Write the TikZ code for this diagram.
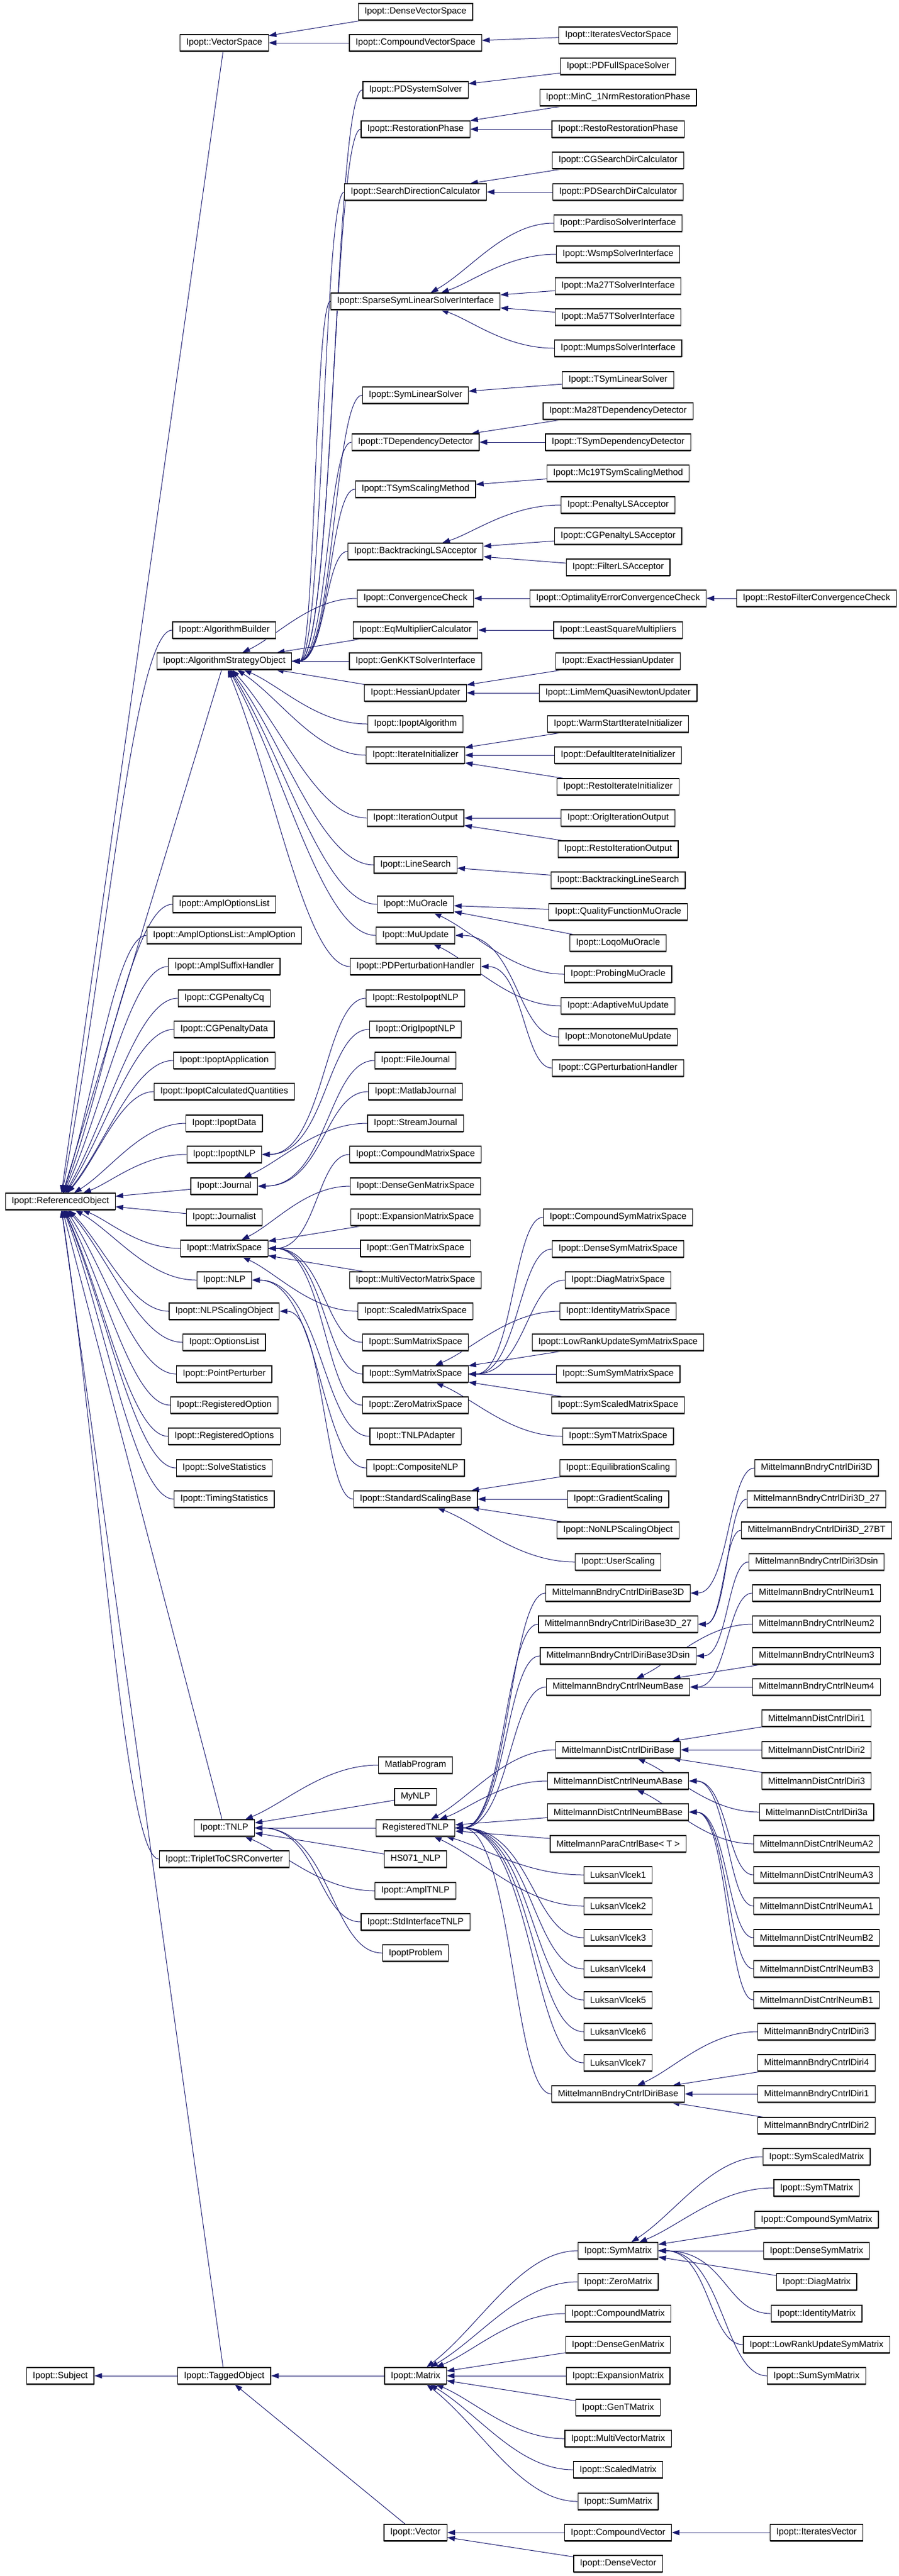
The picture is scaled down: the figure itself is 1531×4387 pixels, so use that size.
\documentclass[tikz,border=0pt]{standalone}
\usepackage{fontspec}
\newfontfamily\dxfont{Liberation Sans}
\usetikzlibrary{arrows.meta,calc,shadows}
\definecolor{mblue}{HTML}{191970}
\pgfdeclarelayer{edgelayer}
\pgfsetlayers{edgelayer,main}
\begin{document}
\begin{tikzpicture}[x=0.5pt,y=-0.5pt,
  box/.style={draw=black, fill=white, line width=0.6pt, inner xsep=5.3pt, inner ysep=0pt,
    minimum height=14pt, font=\dxfont\fontsize{7.65pt}{9pt}\selectfont,
    drop shadow={shadow xshift=0pt,shadow yshift=-0.8pt,fill=black!55,opacity=1}},
  inh/.style={draw=mblue, line width=0.5pt, {Triangle[length=6.5pt,width=4.5pt]}-}]
\useasboundingbox (0,0) rectangle (1531,4387);
\def\Xa{102.7}\def\Xb{381.9}\def\Xc{707.6}\def\Xd{1052.6}\def\Xe{1390.6}
\def\ES#1#2{\draw[inh] (#1) -- (#2);}
\def\EV#1#2{\draw[inh] (#1) .. controls ($(#1)!0.4!(#2.west)$) and ($(#2.west)!0.35!(#2.west -| #1)$) .. (#2.west);}
\def\EC#1#2{\draw[inh] (#1.east) .. controls ($(#1.east)!0.6!(#1.east -| #2.west)$) and ($(#2.west)!0.4!(#2.west -| #1.east)$) .. (#2.west);}
% column 0
\node[box] (ref) at (\Xa,2046) {Ipopt::ReferencedObject};
\node[box] (subj) at (\Xa,4046) {Ipopt::Subject};
% column 1
\node[box] (vs) at (\Xb,73) {Ipopt::VectorSpace};
\node[box] (ab) at (\Xb,1073) {Ipopt::AlgorithmBuilder};
\node[box] (aso) at (\Xb,1126) {Ipopt::AlgorithmStrategyObject};
\node[box] (aol) at (\Xb,1540) {Ipopt::AmplOptionsList};
\node[box] (aoo) at (\Xb,1593) {Ipopt::AmplOptionsList::AmplOption};
\node[box] (ash) at (\Xb,1646) {Ipopt::AmplSuffixHandler};
\node[box] (cgq) at (\Xb,1700) {Ipopt::CGPenaltyCq};
\node[box] (cgd) at (\Xb,1753) {Ipopt::CGPenaltyData};
\node[box] (iapp) at (\Xb,1806) {Ipopt::IpoptApplication};
\node[box] (icq) at (\Xb,1859) {Ipopt::IpoptCalculatedQuantities};
\node[box] (idata) at (\Xb,1913) {Ipopt::IpoptData};
\node[box] (inlp) at (\Xb,1966) {Ipopt::IpoptNLP};
\node[box] (jour) at (\Xb,2020) {Ipopt::Journal};
\node[box] (jist) at (\Xb,2073) {Ipopt::Journalist};
\node[box] (ms) at (\Xb,2126) {Ipopt::MatrixSpace};
\node[box] (nlp) at (\Xb,2180) {Ipopt::NLP};
\node[box] (nso) at (\Xb,2233) {Ipopt::NLPScalingObject};
\node[box] (ol) at (\Xb,2286) {Ipopt::OptionsList};
\node[box] (pp) at (\Xb,2340) {Ipopt::PointPerturber};
\node[box] (ropt) at (\Xb,2393) {Ipopt::RegisteredOption};
\node[box] (ropts) at (\Xb,2446) {Ipopt::RegisteredOptions};
\node[box] (ss) at (\Xb,2500) {Ipopt::SolveStatistics};
\node[box] (ts) at (\Xb,2553) {Ipopt::TimingStatistics};
\node[box] (tnlp) at (\Xb,3113) {Ipopt::TNLP};
\node[box] (tcsr) at (\Xb,3166) {Ipopt::TripletToCSRConverter};
\node[box] (tag) at (\Xb,4046) {Ipopt::TaggedObject};
% column 2
\node[box] (dvs) at (\Xc,20) {Ipopt::DenseVectorSpace};
\node[box] (cvs) at (\Xc,73) {Ipopt::CompoundVectorSpace};
\node[box] (pdss) at (\Xc,153) {Ipopt::PDSystemSolver};
\node[box] (rp) at (\Xc,220) {Ipopt::RestorationPhase};
\node[box] (sdc) at (\Xc,327) {Ipopt::SearchDirectionCalculator};
\node[box] (sslsi) at (\Xc,513) {Ipopt::SparseSymLinearSolverInterface};
\node[box] (sls) at (\Xc,673) {Ipopt::SymLinearSolver};
\node[box] (tdd) at (\Xc,753) {Ipopt::TDependencyDetector};
\node[box] (tssm) at (\Xc,833) {Ipopt::TSymScalingMethod};
\node[box] (blsa) at (\Xc,939) {Ipopt::BacktrackingLSAcceptor};
\node[box] (cc) at (\Xc,1019) {Ipopt::ConvergenceCheck};
\node[box] (emc) at (\Xc,1073) {Ipopt::EqMultiplierCalculator};
\node[box] (gkkt) at (\Xc,1126) {Ipopt::GenKKTSolverInterface};
\node[box] (hu) at (\Xc,1180) {Ipopt::HessianUpdater};
\node[box] (ialg) at (\Xc,1233) {Ipopt::IpoptAlgorithm};
\node[box] (ii) at (\Xc,1286) {Ipopt::IterateInitializer};
\node[box] (io) at (\Xc,1393) {Ipopt::IterationOutput};
\node[box] (ls) at (\Xc,1473) {Ipopt::LineSearch};
\node[box] (muo) at (\Xc,1540) {Ipopt::MuOracle};
\node[box] (muu) at (\Xc,1593) {Ipopt::MuUpdate};
\node[box] (pdph) at (\Xc,1646) {Ipopt::PDPerturbationHandler};
\node[box] (rinlp) at (\Xc,1700) {Ipopt::RestoIpoptNLP};
\node[box] (oinlp) at (\Xc,1753) {Ipopt::OrigIpoptNLP};
\node[box] (fj) at (\Xc,1806) {Ipopt::FileJournal};
\node[box] (mj) at (\Xc,1859) {Ipopt::MatlabJournal};
\node[box] (sj) at (\Xc,1913) {Ipopt::StreamJournal};
\node[box] (cms) at (\Xc,1966) {Ipopt::CompoundMatrixSpace};
\node[box] (dgms) at (\Xc,2020) {Ipopt::DenseGenMatrixSpace};
\node[box] (ems) at (\Xc,2073) {Ipopt::ExpansionMatrixSpace};
\node[box] (gtms) at (\Xc,2126) {Ipopt::GenTMatrixSpace};
\node[box] (mvms) at (\Xc,2180) {Ipopt::MultiVectorMatrixSpace};
\node[box] (scms) at (\Xc,2233) {Ipopt::ScaledMatrixSpace};
\node[box] (sums) at (\Xc,2286) {Ipopt::SumMatrixSpace};
\node[box] (syms) at (\Xc,2340) {Ipopt::SymMatrixSpace};
\node[box] (zms) at (\Xc,2393) {Ipopt::ZeroMatrixSpace};
\node[box] (tnlpa) at (\Xc,2446) {Ipopt::TNLPAdapter};
\node[box] (cnlp) at (\Xc,2500) {Ipopt::CompositeNLP};
\node[box] (ssb) at (\Xc,2553) {Ipopt::StandardScalingBase};
\node[box] (mp) at (\Xc,3006) {MatlabProgram};
\node[box] (mynlp) at (\Xc,3060) {MyNLP};
\node[box] (rtnlp) at (\Xc,3113) {RegisteredTNLP};
\node[box] (hs071) at (\Xc,3166) {HS071\_NLP};
\node[box] (atnlp) at (\Xc,3220) {Ipopt::AmplTNLP};
\node[box] (sitnlp) at (\Xc,3273) {Ipopt::StdInterfaceTNLP};
\node[box] (iprob) at (\Xc,3326) {IpoptProblem};
\node[box] (mat) at (\Xc,4046) {Ipopt::Matrix};
\node[box] (vec) at (\Xc,4313) {Ipopt::Vector};
% column 3
\node[box] (ivs) at (\Xd,60) {Ipopt::IteratesVectorSpace};
\node[box] (pdfss) at (\Xd,113) {Ipopt::PDFullSpaceSolver};
\node[box] (minc) at (\Xd,166) {Ipopt::MinC\_1NrmRestorationPhase};
\node[box] (rrp) at (\Xd,220) {Ipopt::RestoRestorationPhase};
\node[box] (cgsd) at (\Xd,273) {Ipopt::CGSearchDirCalculator};
\node[box] (pdsd) at (\Xd,327) {Ipopt::PDSearchDirCalculator};
\node[box] (pardiso) at (\Xd,380) {Ipopt::PardisoSolverInterface};
\node[box] (wsmp) at (\Xd,433) {Ipopt::WsmpSolverInterface};
\node[box] (ma27) at (\Xd,487) {Ipopt::Ma27TSolverInterface};
\node[box] (ma57) at (\Xd,540) {Ipopt::Ma57TSolverInterface};
\node[box] (mumps) at (\Xd,593) {Ipopt::MumpsSolverInterface};
\node[box] (tsls) at (\Xd,647) {Ipopt::TSymLinearSolver};
\node[box] (ma28) at (\Xd,700) {Ipopt::Ma28TDependencyDetector};
\node[box] (tsdd) at (\Xd,753) {Ipopt::TSymDependencyDetector};
\node[box] (mc19) at (\Xd,806) {Ipopt::Mc19TSymScalingMethod};
\node[box] (plsa) at (\Xd,860) {Ipopt::PenaltyLSAcceptor};
\node[box] (cgplsa) at (\Xd,913) {Ipopt::CGPenaltyLSAcceptor};
\node[box] (flsa) at (\Xd,966) {Ipopt::FilterLSAcceptor};
\node[box] (oecc) at (\Xd,1019) {Ipopt::OptimalityErrorConvergenceCheck};
\node[box] (lsm) at (\Xd,1073) {Ipopt::LeastSquareMultipliers};
\node[box] (ehu) at (\Xd,1126) {Ipopt::ExactHessianUpdater};
\node[box] (lmqn) at (\Xd,1180) {Ipopt::LimMemQuasiNewtonUpdater};
\node[box] (wsii) at (\Xd,1233) {Ipopt::WarmStartIterateInitializer};
\node[box] (dii) at (\Xd,1286) {Ipopt::DefaultIterateInitializer};
\node[box] (rii) at (\Xd,1340) {Ipopt::RestoIterateInitializer};
\node[box] (oio) at (\Xd,1393) {Ipopt::OrigIterationOutput};
\node[box] (rio) at (\Xd,1446) {Ipopt::RestoIterationOutput};
\node[box] (btls) at (\Xd,1499) {Ipopt::BacktrackingLineSearch};
\node[box] (qfmo) at (\Xd,1553) {Ipopt::QualityFunctionMuOracle};
\node[box] (lmo) at (\Xd,1606) {Ipopt::LoqoMuOracle};
\node[box] (pmo) at (\Xd,1659) {Ipopt::ProbingMuOracle};
\node[box] (amu) at (\Xd,1713) {Ipopt::AdaptiveMuUpdate};
\node[box] (mmu) at (\Xd,1766) {Ipopt::MonotoneMuUpdate};
\node[box] (cgph) at (\Xd,1819) {Ipopt::CGPerturbationHandler};
\node[box] (csms) at (\Xd,2073) {Ipopt::CompoundSymMatrixSpace};
\node[box] (dsms) at (\Xd,2127) {Ipopt::DenseSymMatrixSpace};
\node[box] (diagms) at (\Xd,2180) {Ipopt::DiagMatrixSpace};
\node[box] (idms) at (\Xd,2233) {Ipopt::IdentityMatrixSpace};
\node[box] (lrms) at (\Xd,2286) {Ipopt::LowRankUpdateSymMatrixSpace};
\node[box] (ssms) at (\Xd,2340) {Ipopt::SumSymMatrixSpace};
\node[box] (sysms) at (\Xd,2393) {Ipopt::SymScaledMatrixSpace};
\node[box] (stms) at (\Xd,2446) {Ipopt::SymTMatrixSpace};
\node[box] (eqs) at (\Xd,2500) {Ipopt::EquilibrationScaling};
\node[box] (gs) at (\Xd,2553) {Ipopt::GradientScaling};
\node[box] (nonlp) at (\Xd,2606) {Ipopt::NoNLPScalingObject};
\node[box] (us) at (\Xd,2660) {Ipopt::UserScaling};
\node[box] (bdbt) at (\Xd,2713) {MittelmannBndryCntrlDiriBase3D};
\node[box] (bdbts) at (\Xd,2766) {MittelmannBndryCntrlDiriBase3D\_27};
\node[box] (bdbsin) at (\Xd,2820) {MittelmannBndryCntrlDiriBase3Dsin};
\node[box] (bnb) at (\Xd,2873) {MittelmannBndryCntrlNeumBase};
\node[box] (ddb) at (\Xd,2980) {MittelmannDistCntrlDiriBase};
\node[box] (dnab) at (\Xd,3033) {MittelmannDistCntrlNeumABase};
\node[box] (dnbb) at (\Xd,3086) {MittelmannDistCntrlNeumBBase};
\node[box] (pcb) at (\Xd,3140) {MittelmannParaCntrlBase< T >};
\node[box] (lva) at (\Xd,3193) {LuksanVlcek1};
\node[box] (lvb) at (\Xd,3246) {LuksanVlcek2};
\node[box] (lvc) at (\Xd,3300) {LuksanVlcek3};
\node[box] (lvd) at (\Xd,3353) {LuksanVlcek4};
\node[box] (lve) at (\Xd,3406) {LuksanVlcek5};
\node[box] (lvf) at (\Xd,3460) {LuksanVlcek6};
\node[box] (lvg) at (\Xd,3513) {LuksanVlcek7};
\node[box] (bdb) at (\Xd,3566) {MittelmannBndryCntrlDiriBase};
\node[box] (symm) at (\Xd,3833) {Ipopt::SymMatrix};
\node[box] (zm) at (\Xd,3886) {Ipopt::ZeroMatrix};
\node[box] (cm) at (\Xd,3940) {Ipopt::CompoundMatrix};
\node[box] (dgm) at (\Xd,3993) {Ipopt::DenseGenMatrix};
\node[box] (em) at (\Xd,4046) {Ipopt::ExpansionMatrix};
\node[box] (gtm) at (\Xd,4100) {Ipopt::GenTMatrix};
\node[box] (mvm) at (\Xd,4153) {Ipopt::MultiVectorMatrix};
\node[box] (scm) at (\Xd,4206) {Ipopt::ScaledMatrix};
\node[box] (summ) at (\Xd,4260) {Ipopt::SumMatrix};
\node[box] (cv) at (\Xd,4313) {Ipopt::CompoundVector};
\node[box] (dv) at (\Xd,4366) {Ipopt::DenseVector};
% column 4
\node[box] (rfcc) at (\Xe,1019) {Ipopt::RestoFilterConvergenceCheck};
\node[box] (bdt) at (\Xe,2500) {MittelmannBndryCntrlDiri3D};
\node[box] (bdts) at (\Xe,2553) {MittelmannBndryCntrlDiri3D\_27};
\node[box] (bdtsb) at (\Xe,2606) {MittelmannBndryCntrlDiri3D\_27BT};
\node[box] (bdtsin) at (\Xe,2660) {MittelmannBndryCntrlDiri3Dsin};
\node[box] (bna) at (\Xe,2713) {MittelmannBndryCntrlNeum1};
\node[box] (bnbb) at (\Xe,2766) {MittelmannBndryCntrlNeum2};
\node[box] (bnc) at (\Xe,2820) {MittelmannBndryCntrlNeum3};
\node[box] (bnd) at (\Xe,2873) {MittelmannBndryCntrlNeum4};
\node[box] (dda) at (\Xe,2926) {MittelmannDistCntrlDiri1};
\node[box] (ddbb) at (\Xe,2980) {MittelmannDistCntrlDiri2};
\node[box] (ddc) at (\Xe,3033) {MittelmannDistCntrlDiri3};
\node[box] (ddca) at (\Xe,3086) {MittelmannDistCntrlDiri3a};
\node[box] (dnaa) at (\Xe,3140) {MittelmannDistCntrlNeumA2};
\node[box] (dnac) at (\Xe,3193) {MittelmannDistCntrlNeumA3};
\node[box] (dnad) at (\Xe,3246) {MittelmannDistCntrlNeumA1};
\node[box] (dnba) at (\Xe,3300) {MittelmannDistCntrlNeumB2};
\node[box] (dnbc) at (\Xe,3353) {MittelmannDistCntrlNeumB3};
\node[box] (dnbd) at (\Xe,3406) {MittelmannDistCntrlNeumB1};
\node[box] (bdc) at (\Xe,3460) {MittelmannBndryCntrlDiri3};
\node[box] (bdd) at (\Xe,3513) {MittelmannBndryCntrlDiri4};
\node[box] (bda) at (\Xe,3566) {MittelmannBndryCntrlDiri1};
\node[box] (bdbb) at (\Xe,3620) {MittelmannBndryCntrlDiri2};
\node[box] (ssm) at (\Xe,3673) {Ipopt::SymScaledMatrix};
\node[box] (stm) at (\Xe,3726) {Ipopt::SymTMatrix};
\node[box] (csm) at (\Xe,3780) {Ipopt::CompoundSymMatrix};
\node[box] (dsm) at (\Xe,3833) {Ipopt::DenseSymMatrix};
\node[box] (diagm) at (\Xe,3886) {Ipopt::DiagMatrix};
\node[box] (idm) at (\Xe,3940) {Ipopt::IdentityMatrix};
\node[box] (lrm) at (\Xe,3993) {Ipopt::LowRankUpdateSymMatrix};
\node[box] (sumsym) at (\Xe,4046) {Ipopt::SumSymMatrix};
\node[box] (iv) at (\Xe,4313) {Ipopt::IteratesVector};
% edges (drawn beneath the boxes)
\begin{pgfonlayer}{edgelayer}
\fill[white] (0,0) rectangle (1531,4387);
\ES{vs}{dvs}\ES{vs}{cvs}\ES{cvs}{ivs}
\ES{ref}{vs}\EV{ref}{ab}\ES{ref}{aso}\EV{ref}{aol}\EV{ref}{aoo}\EV{ref}{ash}
\EV{ref}{cgq}\EV{ref}{cgd}\EV{ref}{iapp}\EV{ref}{icq}\EV{ref}{idata}\EV{ref}{inlp}
\ES{ref}{jour}\ES{ref}{jist}\EV{ref}{ms}\EV{ref}{nlp}\EV{ref}{nso}\EV{ref}{ol}
\EV{ref}{pp}\EV{ref}{ropt}\EV{ref}{ropts}\EV{ref}{ss}\EV{ref}{ts}\ES{ref}{tnlp}
\EV{ref}{tcsr}\ES{ref}{tag}
\EC{aso}{pdss}\EC{aso}{rp}\EC{aso}{sdc}\EC{aso}{sslsi}\EC{aso}{sls}\EC{aso}{tdd}
\EC{aso}{tssm}\EC{aso}{blsa}\EV{aso}{cc}\ES{aso}{emc}\ES{aso}{gkkt}\ES{aso}{hu}
\EV{aso}{ialg}\EV{aso}{ii}\EV{aso}{io}\EV{aso}{ls}\EV{aso}{muo}\EV{aso}{muu}\EV{aso}{pdph}
\ES{pdss}{pdfss}\ES{rp}{minc}\ES{rp}{rrp}\ES{sdc}{cgsd}\ES{sdc}{pdsd}
\EV{sslsi}{pardiso}\EV{sslsi}{wsmp}\ES{sslsi}{ma27}\ES{sslsi}{ma57}\EV{sslsi}{mumps}
\ES{sls}{tsls}\ES{tdd}{ma28}\ES{tdd}{tsdd}\ES{tssm}{mc19}
\EV{blsa}{plsa}\ES{blsa}{cgplsa}\ES{blsa}{flsa}
\ES{cc}{oecc}\ES{oecc}{rfcc}\ES{emc}{lsm}\ES{hu}{ehu}\ES{hu}{lmqn}
\ES{ii}{wsii}\ES{ii}{dii}\ES{ii}{rii}\ES{io}{oio}\ES{io}{rio}\ES{ls}{btls}
\ES{muo}{qfmo}\ES{muo}{lmo}\EV{muo}{pmo}\EV{muu}{amu}\EC{muu}{mmu}\EC{pdph}{cgph}
\EC{inlp}{rinlp}\EC{inlp}{oinlp}\EC{jour}{fj}\EC{jour}{mj}\EV{jour}{sj}
\EC{ms}{cms}\EV{ms}{dgms}\ES{ms}{ems}\ES{ms}{gtms}\ES{ms}{mvms}\EV{ms}{scms}
\EC{ms}{sums}\EC{ms}{syms}\EC{ms}{zms}
\EC{syms}{csms}\EC{syms}{dsms}\EC{syms}{diagms}\EV{syms}{idms}\ES{syms}{lrms}
\ES{syms}{ssms}\ES{syms}{sysms}\EV{syms}{stms}
\EC{nlp}{tnlpa}\EC{nlp}{cnlp}\EC{nso}{ssb}
\ES{ssb}{eqs}\ES{ssb}{gs}\ES{ssb}{nonlp}\EV{ssb}{us}
\EV{tnlp}{mp}\ES{tnlp}{mynlp}\ES{tnlp}{rtnlp}\ES{tnlp}{hs071}\EV{tnlp}{atnlp}
\EC{tnlp}{sitnlp}\EC{tnlp}{iprob}
\EC{rtnlp}{bdbt}\EC{rtnlp}{bdbts}\EC{rtnlp}{bdbsin}\EC{rtnlp}{bnb}\EV{rtnlp}{ddb}
\EV{rtnlp}{dnab}\ES{rtnlp}{dnbb}\ES{rtnlp}{pcb}\EV{rtnlp}{lva}\EV{rtnlp}{lvb}
\EC{rtnlp}{lvc}\EC{rtnlp}{lvd}\EC{rtnlp}{lve}\EC{rtnlp}{lvf}\EC{rtnlp}{lvg}\EC{rtnlp}{bdb}
\EC{bdbt}{bdt}\EC{bdbts}{bdts}\EC{bdbts}{bdtsb}\EC{bdbsin}{bdtsin}
\EC{bnb}{bna}\EV{bnb}{bnbb}\ES{bnb}{bnc}\ES{bnb}{bnd}
\ES{ddb}{dda}\ES{ddb}{ddbb}\ES{ddb}{ddc}\EV{ddb}{ddca}
\EV{dnab}{dnaa}\EC{dnab}{dnac}\EC{dnab}{dnad}
\EC{dnbb}{dnba}\EC{dnbb}{dnbc}\EC{dnbb}{dnbd}
\EV{bdb}{bdc}\ES{bdb}{bdd}\ES{bdb}{bda}\ES{bdb}{bdbb}
\ES{subj}{tag}\ES{tag}{mat}\ES{tag}{vec}
\EV{mat}{symm}\EV{mat}{zm}\EV{mat}{cm}\ES{mat}{dgm}\ES{mat}{em}\ES{mat}{gtm}
\EV{mat}{mvm}\EV{mat}{scm}\EV{mat}{summ}
\EV{symm}{ssm}\EV{symm}{stm}\ES{symm}{csm}\ES{symm}{dsm}\ES{symm}{diagm}
\EC{symm}{idm}\EC{symm}{lrm}\EC{symm}{sumsym}
\ES{vec}{cv}\ES{vec}{dv}\ES{cv}{iv}
\end{pgfonlayer}
\end{tikzpicture}
\end{document}
